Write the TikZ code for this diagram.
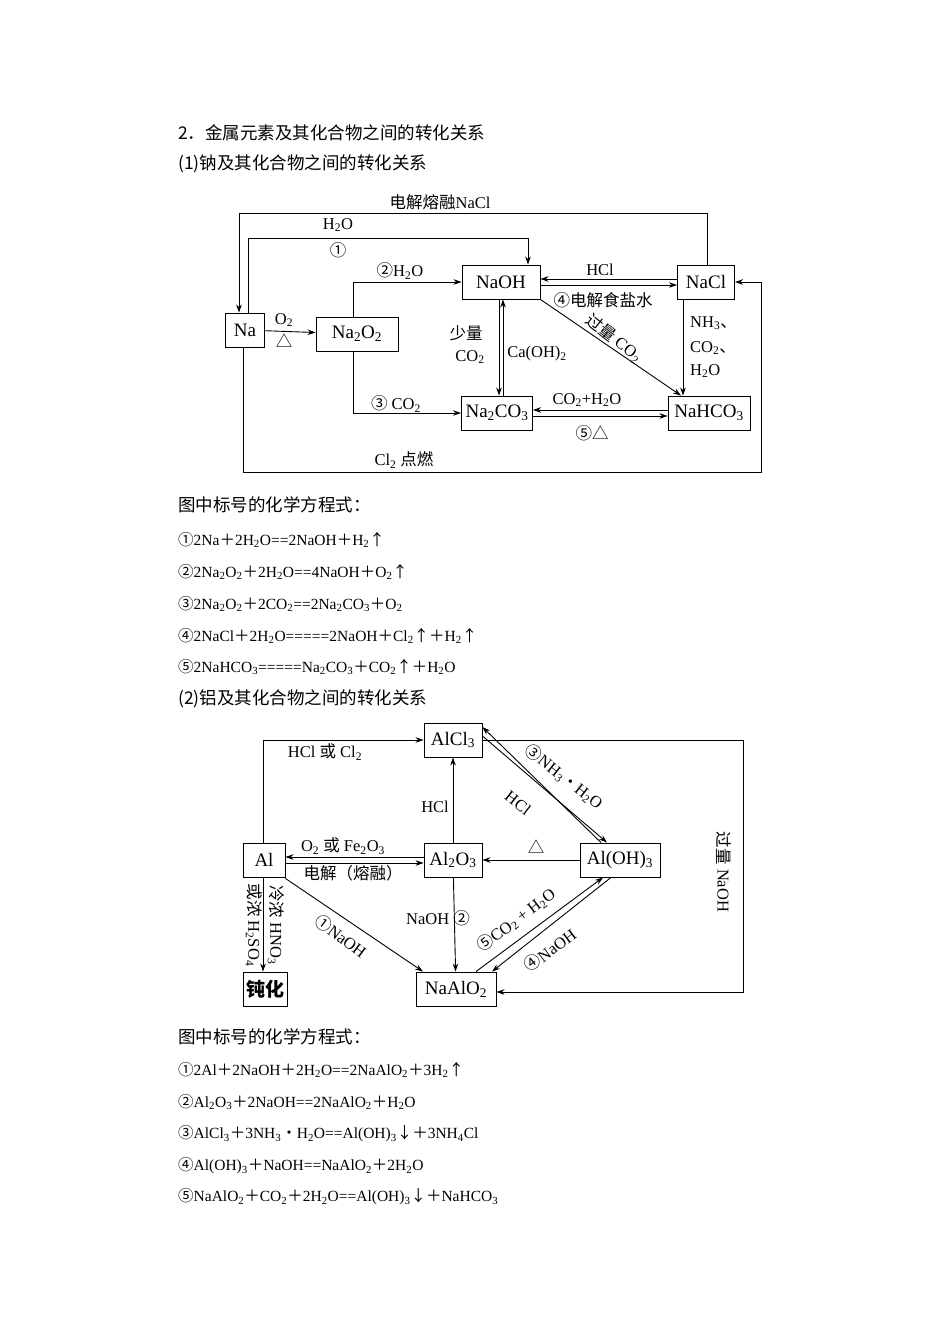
\documentclass[tikz,border=0pt]{standalone}
\usepackage{fontspec}
\setmainfont{Liberation Serif}
\newfontfamily\cjk{Noto Sans CJK SC}
\usetikzlibrary{arrows.meta}
\newcommand{\cj}[1]{{\cjk #1}}
\newcommand{\sbs}[1]{\textsubscript{#1}}
\begin{document}
\begin{tikzpicture}[x=1pt,y=-1pt,
 box/.style={draw,line width=0.9pt,minimum height=34pt,inner xsep=3pt,font=\fontsize{19}{21}\selectfont},
 ln/.style={line width=0.9pt},
 ar/.style={line width=0.9pt,-{Stealth[length=8pt,width=5.5pt]}},
 lab/.style={font=\fontsize{16.5}{18}\selectfont,inner sep=1pt},
 txt/.style={anchor=west,font=\fontsize{15.5}{17}\selectfont,inner sep=0pt},
 hd/.style={anchor=west,font=\fontsize{17.5}{19}\selectfont,inner sep=0pt}]
\useasboundingbox (0,0) rectangle (950,1344);
% headings
\node[hd] (h1) at (178,133) {\cj{2．金属元素及其化合物之间的转化关系}};
\node[hd] (h2) at (178,164) {\cj{(1)钠及其化合物之间的转化关系}};
\node[hd] (h3) at (178,505) {\cj{图中标号的化学方程式：}};
\node[txt] (e1) at (178,540) {\cj{①}2Na\cj{＋}2H\sbs{2}O==2NaOH\cj{＋}H\sbs{2}\cj{↑}};
\node[txt] (e2) at (178,572) {\cj{②}2Na\sbs{2}O\sbs{2}\cj{＋}2H\sbs{2}O==4NaOH\cj{＋}O\sbs{2}\cj{↑}};
\node[txt] (e3) at (178,604) {\cj{③}2Na\sbs{2}O\sbs{2}\cj{＋}2CO\sbs{2}==2Na\sbs{2}CO\sbs{3}\cj{＋}O\sbs{2}};
\node[txt] (e4) at (178,636) {\cj{④}2NaCl\cj{＋}2H\sbs{2}O=====2NaOH\cj{＋}Cl\sbs{2}\cj{↑}\cj{＋}H\sbs{2}\cj{↑}};
\node[txt] (e5) at (178,667) {\cj{⑤}2NaHCO\sbs{3}=====Na\sbs{2}CO\sbs{3}\cj{＋}CO\sbs{2}\cj{↑}\cj{＋}H\sbs{2}O};
\node[hd] (h4) at (178,699) {\cj{(2)铝及其化合物之间的转化关系}};
\node[hd] (h5) at (178,1037) {\cj{图中标号的化学方程式：}};
\node[txt] (f1) at (178,1070) {\cj{①}2Al\cj{＋}2NaOH\cj{＋}2H\sbs{2}O==2NaAlO\sbs{2}\cj{＋}3H\sbs{2}\cj{↑}};
\node[txt] (f2) at (178,1102) {\cj{②}Al\sbs{2}O\sbs{3}\cj{＋}2NaOH==2NaAlO\sbs{2}\cj{＋}H\sbs{2}O};
\node[txt] (f3) at (178,1134) {\cj{③}AlCl\sbs{3}\cj{＋}3NH\sbs{3}\cj{·}H\sbs{2}O==Al(OH)\sbs{3}\cj{↓}\cj{＋}3NH\sbs{4}Cl};
\node[txt] (f4) at (178,1166) {\cj{④}Al(OH)\sbs{3}\cj{＋}NaOH==NaAlO\sbs{2}\cj{＋}2H\sbs{2}O};
\node[txt] (f5) at (178,1197) {\cj{⑤}NaAlO\sbs{2}\cj{＋}CO\sbs{2}\cj{＋}2H\sbs{2}O==Al(OH)\sbs{3}\cj{↓}\cj{＋}NaHCO\sbs{3}};

% ===== sodium diagram =====
\node[box,minimum width=39pt] (Na) at (245,330) {Na};
\node[box,minimum width=82pt] (Na2O2) at (357,334) {Na\sbs{2}O\sbs{2}};
\node[box,minimum width=78pt] (NaOH) at (501,282) {NaOH};
\node[box,minimum width=57pt] (NaCl) at (706,282) {NaCl};
\node[box,minimum width=71pt] (Na2CO3) at (497,413) {Na\sbs{2}CO\sbs{3}};
\node[box,minimum width=82pt] (NaHCO3) at (709,413) {NaHCO\sbs{3}};
\coordinate (t1) at (707,213); \coordinate (t2) at (239,213);
\draw[ar] (NaCl.north-|t1) -- (t1) -- (t2) -- (t2|-Na.north);
\node[lab] (l1) at (440,202) {\cj{电解熔融}NaCl};
\coordinate (u1) at (248,238); \coordinate (u2) at (528,238);
\draw[ar] (Na.north-|u1) -- (u1) -- (u2) -- (u2|-NaOH.north);
\node[lab] (l2) at (338,225) {H\sbs{2}O};
\node[lab] (l3) at (338,250) {\cj{①}};
\coordinate (v1) at (353,282); \coordinate (v2) at (353,413);
\draw[ar] (Na2O2.north-|v1) -- (v1) -- (NaOH.west);
\draw[ar] (Na2O2.south-|v2) -- (v2) -- (Na2CO3.west);
\node[lab] (l4) at (400,271) {\cj{②}H\sbs{2}O};
\node[lab] (l5) at (396,404) {\cj{③} CO\sbs{2}};
\draw[ar] (Na) -- (Na2O2);
\node[lab] (l6) at (284,320) {O\sbs{2}};
\node[lab] (l7) at (284,341) {\cj{△}};
\draw[ar] ([yshift=-3pt]NaOH.east) -- ([yshift=-3pt]NaCl.west);
\draw[ar] ([yshift=3pt]NaCl.west) -- ([yshift=3pt]NaOH.east);
\node[lab] (l8) at (600,270) {HCl};
\node[lab] (l9) at (603,300) {\cj{④电解食盐水}};
\draw[ar] ([xshift=-2pt]NaOH.south) -- ([xshift=2pt]Na2CO3.north);
\draw[ar] ([xshift=6pt]Na2CO3.north) -- ([xshift=2pt]NaOH.south);
\node[lab] (l10) at (466,333) {\cj{少量}};
\node[lab] (l11) at (470,357) {CO\sbs{2}};
\node[lab] (l12) at (537,354) {Ca(OH)\sbs{2}};
\draw[ar] (NaOH.south east) -- ([xshift=-28pt]NaHCO3.north);
\node[lab,rotate=-38] (l13) at (614,338) {\cj{过量} CO\sbs{2}};
\draw[ar] ([xshift=-23pt]NaCl.south) -- ([xshift=-26pt]NaHCO3.north);
\node[lab,anchor=west] (l14) at (689,323) {NH\sbs{3}\cj{、}};
\node[lab,anchor=west] (l15) at (689,348) {CO\sbs{2}\cj{、}};
\node[lab,anchor=west] (l16) at (689,371) {H\sbs{2}O};
\draw[ar] ([yshift=-3pt]Na2CO3.east) -- ([yshift=-3pt]NaHCO3.west);
\draw[ar] ([yshift=3pt]NaHCO3.west) -- ([yshift=3pt]Na2CO3.east);
\node[lab] (l17) at (587,400) {CO\sbs{2}+H\sbs{2}O};
\node[lab] (l18) at (592,433) {\cj{⑤△}};
\coordinate (w1) at (243,472); \coordinate (w2) at (761,472); \coordinate (w3) at (761,282);
\draw[ar] (Na.south-|w1) -- (w1) -- (w2) -- (w3) -- (NaCl.east);
\node[lab] (l19) at (404,460) {Cl\sbs{2} \cj{点燃}};

% ===== aluminium diagram =====
\node[box,minimum width=58pt] (AlCl3) at (453,740) {AlCl\sbs{3}};
\node[box,minimum width=42pt] (Al) at (264,860) {Al};
\node[box,minimum width=58pt] (Al2O3) at (453,860) {Al\sbs{2}O\sbs{3}};
\node[box,minimum width=80pt] (AlOH3) at (620,860) {Al(OH)\sbs{3}};
\node[box,minimum width=44pt,inner xsep=1pt] (dh) at (265,989) {\cj{\bfseries 钝化}};
\node[box,minimum width=80pt] (NaAlO2) at (456,989) {NaAlO\sbs{2}};
\coordinate (a1) at (263,740);
\draw[ar] (Al.north-|a1) -- (a1) -- (AlCl3.west);
\node[lab] (m1) at (325,752) {HCl \cj{或} Cl\sbs{2}};
\coordinate (b1) at (743,740); \coordinate (b2) at (743,992);
\draw[ar] (AlCl3.east|-b1) -- (b1) -- (b2) -- (NaAlO2.east|-b2);
\node[lab,rotate=-90] (m2) at (724,872) {\cj{过量} NaOH};
\draw[ar] (Al2O3) -- (AlCl3);
\node[lab] (m3) at (435,807) {HCl};
\draw[ar] ([yshift=-3pt]Al.east) -- ([yshift=-3pt]Al2O3.west);
\draw[ar] ([yshift=3pt]Al2O3.west) -- ([yshift=3pt]Al.east);
\node[lab] (m4) at (343,846) {O\sbs{2} \cj{或} Fe\sbs{2}O\sbs{3}};
\node[lab] (m5) at (353,873) {\cj{电解（熔融）}};
\draw[ar] (AlOH3) -- (Al2O3);
\node[lab] (m6) at (536,847) {\cj{△}};
\draw[ar] ([yshift=4pt]AlCl3.east) -- ([xshift=-13pt]AlOH3.north);
\draw[ar] ([xshift=-19pt]AlOH3.north) -- ([yshift=13pt]AlCl3.east);
\node[lab,rotate=-38] (m7) at (564,777) {\cj{③}NH\sbs{3}\cj{·}H\sbs{2}O};
\node[lab,rotate=-38] (m8) at (518,803) {HCl};
\draw[ar] ([xshift=20pt]NaAlO2.north) -- ([xshift=-17pt]AlOH3.south);
\draw[ar] ([xshift=-9pt]AlOH3.south) -- ([xshift=36pt]NaAlO2.north);
\node[lab,rotate=37] (m9) at (516,920) {\cj{⑤}CO\sbs{2} + H\sbs{2}O};
\node[lab,rotate=37] (m10) at (550,950) {\cj{④}NaOH};
\draw[ar] ([yshift=-1pt]Al.south east) -- ([xshift=-33pt]NaAlO2.north);
\node[lab,rotate=-37] (m11) at (341,936) {\cj{①}NaOH};
\draw[ar] (Al2O3) -- (NaAlO2);
\node[lab] (m12) at (438,918) {NaOH \cj{②}};
\draw[ar] ([xshift=-1pt]Al.south) -- ([xshift=-2pt]dh.north);
\node[lab,rotate=-90] (m13) at (276,925) {\cj{冷浓} HNO\sbs{3}};
\node[lab,rotate=-90] (m14) at (254,925) {\cj{或浓} H\sbs{2}SO\sbs{4}};
\end{tikzpicture}
\end{document}
